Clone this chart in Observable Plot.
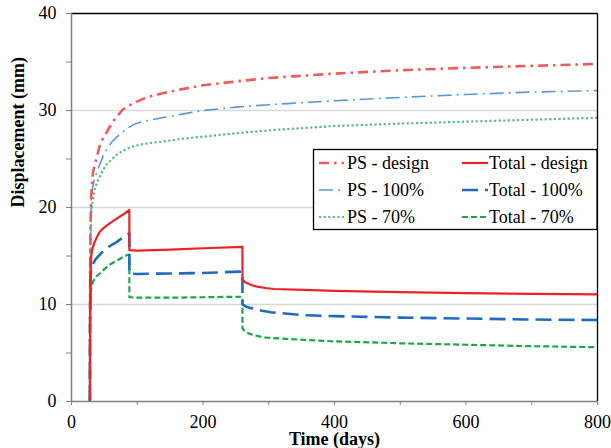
<!DOCTYPE html>
<html><head><meta charset="utf-8">
<script src="https://cdn.jsdelivr.net/npm/d3@7"></script>
<script src="https://cdn.jsdelivr.net/npm/@observablehq/plot@0.6"></script>
<style>
body{margin:0;background:#fff}
#chart{width:611px;height:448px}
#chart svg text{font-family:'Liberation Serif','Times New Roman',serif}
</style>
</head><body><div id="chart"></div>
<script>
// ---- data (time in days, displacement in mm) ----
const psDesignT = [28,28.2,28.5,29,29.5,30,31,32.5,35,37.6,42.7,47,53,59,65.6,72,78,87,96,107,119,137,160,200,250,300,400,500,600,700,800];
const psDesignV = [0,10,15,18.5,20,21.1,22.4,23.5,24.3,25.0,26.3,27.0,27.7,28.4,29.1,29.6,30.1,30.5,30.8,31.15,31.45,31.75,32.1,32.6,33.0,33.35,33.8,34.15,34.4,34.6,34.8];
const ps100T = [28,28.2,28.5,29,29.5,30,32,35,40,44,48,54,60.6,68,76,86,96,108,122,142,170,200,250,300,400,500,600,700,800];
const ps100V = [0,9,14,17.5,19.5,20.6,22.0,23.0,23.9,24.6,25.3,26.0,26.7,27.2,27.7,28.2,28.6,28.85,29.05,29.3,29.65,30.0,30.35,30.6,31.0,31.35,31.65,31.9,32.05];
const ps70T = [28,28.2,28.5,29,29.5,30,31,33,35,39,43,48,53,60,68,77,86,96,106,120,139,170,200,250,300,400,500,600,700,800];
const ps70V = [0,8,13,16.5,18.3,19.3,20.1,21.0,21.8,22.6,23.2,23.85,24.4,24.9,25.4,25.8,26.1,26.35,26.5,26.65,26.8,27.1,27.3,27.65,27.95,28.4,28.65,28.85,29.05,29.25];
const totDesignT = [28,28.2,28.6,29,29.5,30,32,35,39,43,49,55,62,70,78,87,88,88,100,150,200,260,260,263,267,274,282,295,308,354,400,500,600,700,800];
const totDesignV = [0,8,11,12.8,14.2,15.0,15.8,16.4,17.0,17.5,17.9,18.2,18.55,18.9,19.25,19.7,19.75,15.6,15.55,15.65,15.8,15.95,12.6,12.35,12.2,12.0,11.85,11.7,11.6,11.5,11.4,11.28,11.18,11.1,11.05];
const tot100T = [28,28.2,28.6,29,30,32,36,40,46,53,60,68,76,85,88,88,100,150,200,260,260,265,275,288,303,354,400,500,600,700,800];
const tot100V = [0,8,11.5,13.0,13.6,14.1,14.6,14.9,15.35,15.8,16.1,16.4,16.8,17.2,17.35,13.2,13.15,13.2,13.25,13.4,10.0,9.8,9.6,9.38,9.2,8.9,8.8,8.65,8.55,8.45,8.4];
const tot70T = [28,28.3,28.8,29.5,31,33,38,43,50,58,67,76,85,88,88,100,150,200,260,260,263,270,280,293,328,354,400,500,600,700,800];
const tot70V = [0,8,10.5,11.4,12.0,12.4,12.9,13.2,13.65,14.1,14.45,14.8,15.1,15.15,10.75,10.7,10.7,10.75,10.8,7.55,7.3,7.0,6.8,6.6,6.45,6.35,6.2,6.0,5.85,5.7,5.6];

const seriesNames = ["PS - design","Total - design","PS - 100%","Total - 100%","PS - 70%","Total - 70%"];
const xTicks = [0,100,200,300,400,500,600,700,800];
const yTicks = [0,5,10,15,20,25,30,35,40];
const gridY = [10,20,30];
const xLabel = "Time (days)";
const yLabel = "Displacement (mm)";

// ---- styles ----
const styles = {
  "PS - design":   {stroke:"#ef5a5a", strokeWidth:2.6, dash:"10,5,2.5,5"},
  "Total - design":{stroke:"#ee2225", strokeWidth:2.2, dash:null},
  "PS - 100%":     {stroke:"#5b9bd5", strokeWidth:1.6, dash:"14,5,2,5"},
  "Total - 100%":  {stroke:"#1f6cbf", strokeWidth:2.6, dash:"16,7"},
  "PS - 70%":      {stroke:"#55c07a", strokeWidth:2.2, dash:"2.2,2.4"},
  "Total - 70%":   {stroke:"#1aa84a", strokeWidth:2.2, dash:"6,3"}
};

function rows(ts, vs){ return ts.map((t,i)=>({t, v: vs[i]})); }
const data = {
  "PS - design": rows(psDesignT, psDesignV),
  "Total - design": rows(totDesignT, totDesignV),
  "PS - 100%": rows(ps100T, ps100V),
  "Total - 100%": rows(tot100T, tot100V),
  "PS - 70%": rows(ps70T, ps70V),
  "Total - 70%": rows(tot70T, tot70V)
};

const drawOrder = ["PS - 70%","PS - 100%","PS - design","Total - 70%","Total - 100%","Total - design"];
const lineMarks = drawOrder.map(name => Plot.line(data[name], {
  x:"t", y:"v", stroke: styles[name].stroke, strokeWidth: styles[name].strokeWidth,
  strokeDasharray: styles[name].dash || undefined, strokeLinejoin:"round", strokeLinecap:"butt"
}));

const axisColor = "#808080";
const chart = Plot.plot({
  width: 611, height: 448,
  marginLeft: 71, marginRight: 14, marginTop: 13, marginBottom: 47,
  style: {fontSize: "18px", color:"black", background:"white"},
  x: {domain:[0,800]},
  y: {domain:[0,40]},
  marks: [
    Plot.ruleY(gridY, {stroke:"#d9d9d9", strokeWidth:1.5}),
    ...lineMarks,
    Plot.ruleY([40], {stroke:"black", strokeWidth:1.3}),
    Plot.ruleX([800], {stroke:"black", strokeWidth:1.3}),
    Plot.ruleX([0], {stroke:axisColor, strokeWidth:1.5}),
    Plot.ruleY([0], {stroke:axisColor, strokeWidth:1.5}),
    Plot.axisX({ticks:xTicks, tickFormat: d => d % 200 === 0 ? String(d) : "", tickSize:4, tickPadding:10, stroke:axisColor, fill:"black", fontSize:18, label:null}),
    Plot.axisY({ticks:yTicks, tickFormat: d => d % 10 === 0 ? String(d) : "", tickSize:5, tickPadding:10, stroke:axisColor, fill:"black", fontSize:18, label:null}),
    Plot.text([xLabel], {frameAnchor:"bottom", lineAnchor:"middle", dy:37.5, fontWeight:"bold", fontSize:18, fill:"black"}),
    Plot.text([yLabel], {frameAnchor:"left", lineAnchor:"middle", dx:-53, rotate:-90, fontWeight:"bold", fontSize:18, fill:"black"})
  ]
});

// ---- legend inside the plot ----
const svg = d3.select(chart);
const lg = svg.append("g").attr("font-size",18).attr("text-anchor","start");
lg.append("rect").attr("x",313.5).attr("y",149.5).attr("width",283.5).attr("height",80)
  .attr("fill","white").attr("stroke","black").attr("stroke-width",1.3);
const legendRows = [["PS - design","Total - design"],["PS - 100%","Total - 100%"],["PS - 70%","Total - 70%"]];
const rowY = [163, 190, 217];
const colLine = [[319,344],[462,488]];
const colText = [347, 489];
legendRows.forEach((r, i) => {
  r.forEach((name, j) => {
    const st = styles[name];
    lg.append("line").attr("x1", colLine[j][0]).attr("x2", colLine[j][1]).attr("y1", rowY[i]).attr("y2", rowY[i])
      .attr("stroke", st.stroke).attr("stroke-width", st.strokeWidth).attr("stroke-dasharray", st.dash);
    lg.append("text").attr("x", colText[j]).attr("y", rowY[i]).attr("dy","0.35em")
      .attr("text-anchor","start").attr("fill","black").text(name);
  });
});

document.getElementById("chart").appendChild(chart);
</script>
</body></html>
